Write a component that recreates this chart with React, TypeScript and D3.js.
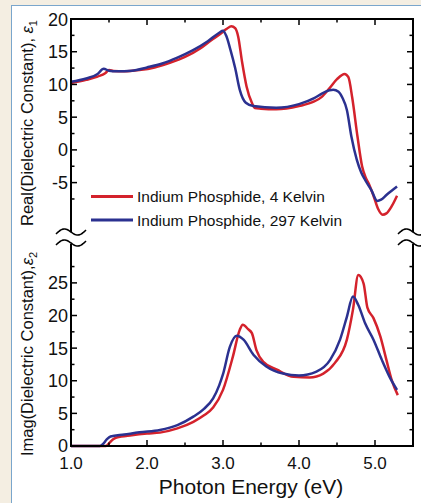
import React from "react";
import * as d3 from "d3";

// ---- Data ----
const eps1Red: [number, number][] = [
  [1.0, 10.2], [1.2, 10.7], [1.35, 11.2], [1.45, 11.7], [1.5, 12.2], [1.56, 12.05], [1.7, 12.0],
  [1.9, 12.2], [2.1, 12.6], [2.3, 13.3], [2.5, 14.2], [2.7, 15.5], [2.85, 16.8], [2.95, 17.6],
  [3.05, 18.5], [3.11, 18.9], [3.16, 18.6], [3.2, 17.3], [3.25, 13.5], [3.31, 9.7], [3.38, 7.2],
  [3.42, 6.4], [3.5, 6.3], [3.7, 6.2], [4.0, 6.7], [4.2, 7.4], [4.3, 8.1], [4.4, 9.4], [4.5, 10.8],
  [4.6, 11.6], [4.65, 11.1], [4.7, 8.0], [4.77, 2.0], [4.83, -2.5], [4.88, -4.3], [4.92, -5.2],
  [4.98, -7.0], [5.04, -9.0], [5.1, -9.9], [5.15, -9.7], [5.22, -8.6], [5.29, -7.0],
];
const eps1Blue: [number, number][] = [
  [1.0, 10.4], [1.2, 10.9], [1.35, 11.6], [1.43, 12.4], [1.5, 12.1], [1.6, 12.0], [1.8, 12.1],
  [2.0, 12.6], [2.2, 13.2], [2.4, 14.1], [2.6, 15.2], [2.8, 16.6], [2.95, 17.9], [3.0, 18.2],
  [3.04, 17.5], [3.1, 15.2], [3.16, 12.5], [3.22, 9.2], [3.3, 7.2], [3.4, 6.7], [3.7, 6.45],
  [4.0, 7.0], [4.2, 7.9], [4.3, 8.6], [4.4, 9.1], [4.45, 9.2], [4.52, 8.9], [4.57, 8.0],
  [4.63, 6.1], [4.69, 2.0], [4.76, -1.5], [4.82, -3.5], [4.87, -4.6], [4.95, -6.1], [5.03, -7.8],
  [5.08, -7.6], [5.15, -6.9], [5.29, -5.6],
];
const eps2Red: [number, number][] = [
  [1.0, 0], [1.46, 0], [1.5, 0.4], [1.55, 1.0], [1.6, 1.3], [1.8, 1.65], [2.0, 1.9], [2.17, 2.05],
  [2.4, 2.7], [2.61, 3.7], [2.75, 4.7], [2.87, 5.9], [3.0, 8.6], [3.13, 13.7], [3.22, 17.8],
  [3.26, 18.6], [3.33, 17.9], [3.38, 17.3], [3.44, 14.7], [3.53, 12.9], [3.71, 11.7], [3.93, 10.6],
  [4.14, 10.5], [4.32, 11.1], [4.47, 12.7], [4.63, 16.3], [4.71, 20.9], [4.78, 26.2], [4.85, 24.9],
  [4.9, 21.2], [4.98, 19.6], [5.07, 16.8], [5.15, 13.2], [5.22, 10.1], [5.3, 7.8],
];
const eps2Blue: [number, number][] = [
  [1.0, 0], [1.38, 0], [1.42, 0.3], [1.47, 1.0], [1.52, 1.45], [1.7, 1.75], [1.9, 2.1], [2.17, 2.45],
  [2.4, 3.2], [2.61, 4.5], [2.75, 5.7], [2.87, 7.3], [2.95, 9.3], [3.0, 11.0], [3.09, 15.2],
  [3.18, 16.9], [3.27, 16.3], [3.4, 14.0], [3.57, 12.2], [3.79, 11.1], [4.0, 10.8], [4.23, 11.4],
  [4.41, 13.2], [4.54, 16.3], [4.63, 19.8], [4.71, 22.9], [4.78, 21.6], [4.87, 18.8], [4.98, 16.3],
  [5.09, 13.2], [5.2, 10.4], [5.29, 8.6],
];

const xTickLabels = ["1.0", "2.0", "3.0", "4.0", "5.0"];
const xMajor = [1, 2, 3, 4, 5];
const xMinor = [1.5, 2.5, 3.5, 4.5];
const topMajor = [20, 15, 10, 5, 0, -5];
const topMinor = [17.5, 12.5, 7.5, 2.5, -2.5, -7.5];
const botMajor = [0, 5, 10, 15, 20, 25];
const botMinor = [2.5, 7.5, 12.5, 17.5, 22.5, 27.5];
const seriesNames = ["Indium Phosphide, 4 Kelvin", "Indium Phosphide, 297 Kelvin"];

const RED = "#d4222c";
const BLUE = "#2b3190";
const FONT = "'Liberation Sans', Arial, Helvetica, sans-serif";

export default function App() {
  const W = 421, H = 503;
  const L = 71, R = 413, T = 19, B = 446;
  const breakTop = 233, breakBot = 247;
  const x = d3.scaleLinear().domain([1, 5.5]).range([L, R]);
  const yTop = d3.scaleLinear().domain([-12.7, 20]).range([breakTop, T]);
  const yBot = d3.scaleLinear().domain([0, 30.5]).range([B, breakBot]);

  const lineTop = d3.line<[number, number]>().x(d => x(d[0])).y(d => yTop(d[1])).curve(d3.curveMonotoneX);
  const lineBot = d3.line<[number, number]>().x(d => x(d[0])).y(d => yBot(d[1])).curve(d3.curveMonotoneX);

  const wave = (x0: number, yc: number) => {
    const pts: [number, number][] = [];
    for (let i = 0; i <= 30; i++) {
      const t = i / 30;
      pts.push([x0 + t * 30, yc + 2 - t * 4 - 4 * Math.sin(2 * Math.PI * t)]);
    }
    return d3.line()(pts) as string;
  };

  const ticksV = (xPos: number, dir: number) => (
    <g>
      {topMajor.map(v => <line key={"tM" + v} x1={xPos} x2={xPos + dir * 6} y1={yTop(v)} y2={yTop(v)} />)}
      {topMinor.map(v => <line key={"tm" + v} x1={xPos} x2={xPos + dir * 3.5} y1={yTop(v)} y2={yTop(v)} />)}
      {botMajor.map(v => <line key={"bM" + v} x1={xPos} x2={xPos + dir * 6} y1={yBot(v)} y2={yBot(v)} />)}
      {botMinor.map(v => <line key={"bm" + v} x1={xPos} x2={xPos + dir * 3.5} y1={yBot(v)} y2={yBot(v)} />)}
    </g>
  );

  return (
    <div style={{ position: "fixed", left: 0, top: 0 }}>
      <svg width={W} height={H} style={{ display: "block" }}>
        <rect x={0} y={0} width={W} height={H} fill="#f4eee2" />
        <rect x={11.5} y={5.5} width={W} height={H} fill="#ffffff" stroke="#7aa6cc" strokeWidth={1} />

        {/* curves */}
        <path d={lineTop(eps1Red) as string} fill="none" stroke={RED} strokeWidth={2.5} />
        <path d={lineTop(eps1Blue) as string} fill="none" stroke={BLUE} strokeWidth={2.5} />
        <path d={lineBot(eps2Red) as string} fill="none" stroke={RED} strokeWidth={2.5} />
        <path d={lineBot(eps2Blue) as string} fill="none" stroke={BLUE} strokeWidth={2.5} />

        {/* frame */}
        <g stroke="#000" strokeWidth={2} fill="none">
          <line x1={L - 1} x2={R + 1} y1={T} y2={T} />
          <line x1={L - 1} x2={R + 1} y1={B} y2={B} />
          <line x1={L} x2={L} y1={T} y2={B} />
          <line x1={R} x2={R} y1={T} y2={B} />
        </g>
        <g stroke="#000" strokeWidth={1.5}>
          {ticksV(L, 1)}
          {ticksV(R, -1)}
          {xMajor.map(v => <line key={"xb" + v} x1={x(v)} x2={x(v)} y1={B} y2={B - 6} />)}
          {xMinor.map(v => <line key={"xbm" + v} x1={x(v)} x2={x(v)} y1={B} y2={B - 3.5} />)}
          {xMajor.map(v => <line key={"xt" + v} x1={x(v)} x2={x(v)} y1={T} y2={T + 6} />)}
          {xMinor.map(v => <line key={"xtm" + v} x1={x(v)} x2={x(v)} y1={T} y2={T + 3.5} />)}
        </g>

        {/* axis breaks */}
        <rect x={L - 4} y={232} width={8} height={12} fill="#fff" />
        <rect x={R - 4} y={232} width={8} height={12} fill="#fff" />
        <g stroke="#000" strokeWidth={1.6} fill="none">
          <path d={wave(56, 232)} />
          <path d={wave(56, 243)} />
          <path d={wave(398, 232)} />
          <path d={wave(398, 243)} />
        </g>

        {/* tick labels */}
        <g fontFamily={FONT} fontSize={18} fill="#111" textAnchor="end">
          {topMajor.map(v => (
            <text key={"lt" + v} x={L - 3} y={yTop(v) + 6.5}>{v}</text>
          ))}
          {botMajor.map(v => (
            <text key={"lb" + v} x={L - 3} y={yBot(v) + (v === 0 ? 5.5 : 6.5)}>{v}</text>
          ))}
        </g>
        <g fontFamily={FONT} fontSize={17} fill="#111" textAnchor="middle">
          {xMajor.map((v, i) => (
            <text key={"lx" + v} x={x(v)} y={469}>{xTickLabels[i]}</text>
          ))}
        </g>

        {/* axis titles */}
        <text fontFamily={FONT} fontSize={21} fill="#111" textAnchor="middle" x={251} y={494}>
          Photon Energy (eV)
        </text>
        <text fontFamily={FONT} fontSize={16.5} fill="#111" textAnchor="middle"
          transform="translate(33,123) rotate(-90)">
          Real(Dielectric Constant), <tspan fontStyle="italic">ε</tspan><tspan fontSize={11} dy={4}>1</tspan>
        </text>
        <text fontFamily={FONT} fontSize={16.5} fill="#111" textAnchor="middle"
          transform="translate(33,354) rotate(-90)">
          Imag(Dielectric Constant),<tspan fontStyle="italic">ε</tspan><tspan fontSize={11} dy={4}>2</tspan>
        </text>

        {/* legend */}
        <line x1={91} x2={133} y1={196.5} y2={196.5} stroke={RED} strokeWidth={3} />
        <line x1={91} x2={133} y1={220} y2={220} stroke={BLUE} strokeWidth={3} />
        <g fontFamily={FONT} fontSize={15.5} fill="#111">
          <text x={137} y={202}>{seriesNames[0]}</text>
          <text x={137} y={225.5}>{seriesNames[1]}</text>
        </g>
      </svg>
    </div>
  );
}
